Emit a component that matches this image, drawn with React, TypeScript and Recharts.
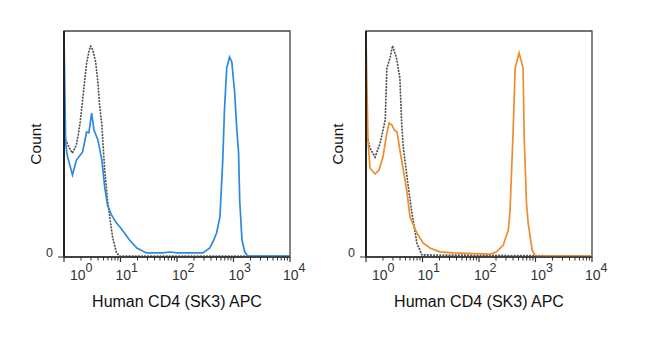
import React from "react";
import {
  LineChart,
  Line,
  XAxis,
  YAxis,
  ReferenceArea,
} from "recharts";

// x values are log10(intensity), y values are % of max count

const BLUE_X = [0, 0.03, 0.065, 0.15, 0.22, 0.33, 0.4, 0.44, 0.49, 0.53, 0.6, 0.67, 0.72, 0.77, 0.84, 0.93, 0.99, 1.07, 1.16, 1.29, 1.46, 1.75, 1.87, 2.0, 2.46, 2.58, 2.65, 2.7, 2.76, 2.81, 2.84, 2.88, 2.93, 2.97, 3.02, 3.06, 3.09, 3.11, 3.15, 3.2, 3.25, 4];
const BLUE_Y = [97, 49.6, 44.2, 36.3, 42.9, 46.5, 55.3, 54.9, 63.7, 56.2, 51.8, 42.9, 31, 23, 18.6, 15, 13.3, 10.6, 7.5, 4, 1.8, 1.8, 2.2, 1.8, 1.8, 4, 7.5, 10.6, 17.7, 43, 65, 83.6, 88.5, 86.3, 73, 56, 46, 25, 7.5, 2.2, 0.4, 0.4];

const ORANGE_X = [0, 0.035, 0.07, 0.16, 0.23, 0.3, 0.37, 0.41, 0.46, 0.5, 0.55, 0.6, 0.66, 0.72, 0.78, 0.9, 1.01, 1.13, 1.31, 1.54, 2.2, 2.31, 2.43, 2.52, 2.55, 2.6, 2.64, 2.71, 2.78, 2.8, 2.84, 2.87, 2.94, 3.0, 4];
const ORANGE_Y = [97, 51.8, 39.4, 36.7, 38.5, 44.2, 54.9, 59.3, 58.4, 56.2, 55.3, 47.3, 38.5, 29.6, 17.7, 10.6, 6.2, 4, 2.3, 1.8, 1.3, 2.3, 5.3, 12, 20.8, 53, 83.6, 90.3, 83.6, 53, 23.9, 15, 3.1, 0.4, 0.4];

const CTRL_LEFT_X = [0.03, 0.1, 0.15, 0.22, 0.28, 0.33, 0.4, 0.44, 0.47, 0.51, 0.56, 0.6, 0.63, 0.67, 0.72, 0.77, 0.81, 0.86, 0.93, 0.99, 4];
const CTRL_LEFT_Y = [51.8, 48, 46, 49.6, 58.4, 69.5, 85.8, 90.7, 93.4, 91.6, 86.3, 77.4, 67.3, 58.4, 38.5, 25.2, 17.7, 8.8, 1.8, 0.4, 0.4];

const CTRL_RIGHT_X = [0.035, 0.07, 0.16, 0.25, 0.34, 0.37, 0.43, 0.47, 0.54, 0.6, 0.63, 0.66, 0.74, 0.81, 0.9, 0.99, 4];
const CTRL_RIGHT_Y = [51.8, 48.2, 44.2, 50.4, 60.6, 83.6, 88.5, 93.5, 88, 79.2, 59.7, 48.7, 32.7, 19.9, 6.2, 0.9, 0.4];

const DECADES = [0, 1, 2, 3, 4];
const MINOR_STEPS = [2, 3, 4, 5, 6, 7, 8, 9];
const LABEL_DX = [6, -5, -5, -5, -7];
const X_TITLE = "Human CD4 (SK3) APC";

const MINOR_TICKS = DECADES.slice(0, -1).flatMap((k) =>
  MINOR_STEPS.map((m) => k + Math.log10(m))
);
const ALL_TICKS = [...DECADES, ...MINOR_TICKS].sort((a, b) => a - b);

const toPoints = (xs: number[], ys: number[]) =>
  xs.map((x, i) => ({ x, y: ys[i] }));

function LogTick(props: any) {
  const { x, y, payload } = props;
  const v = payload.value;
  const idx = DECADES.indexOf(v);
  if (idx < 0) {
    return <line x1={x} x2={x} y1={y} y2={y + 3.5} stroke="#333" strokeWidth={1} />;
  }
  return (
    <g>
      <line x1={x} x2={x} y1={y} y2={y + 5} stroke="#333" strokeWidth={1.2} />
      <text x={x + LABEL_DX[idx]} y={y + 23} fontSize={14} fill="#333" textAnchor="start">
        10
        <tspan dy={-8} fontSize={12.5}>
          {v}
        </tspan>
      </text>
    </g>
  );
}

function ZeroTick(props: any) {
  const { x, y } = props;
  return (
    <text x={x} y={y} dy={-0.5} textAnchor="end" fontSize={12.5} fill="#333">
      0
    </text>
  );
}

function Histogram({
  sample,
  control,
  color,
}: {
  sample: { x: number; y: number }[];
  control: { x: number; y: number }[];
  color: string;
}) {
  return (
    <LineChart
      width={325}
      height={346}
      margin={{ top: 31, right: 35, left: 0, bottom: 29 }}
    >
      <XAxis
        type="number"
        dataKey="x"
        domain={[0, 4]}
        ticks={ALL_TICKS}
        interval={0}
        tickSize={0}
        tickMargin={0}
        tickLine={false}
        tick={<LogTick />}
        height={60}
        axisLine={{ stroke: "#333", strokeWidth: 1.5 }}
        allowDataOverflow
        label={{
          value: X_TITLE,
          position: "insideBottom",
          offset: 10,
          fontSize: 16,
          fill: "#111",
        }}
      />
      <YAxis
        type="number"
        domain={[0, 100]}
        ticks={[0]}
        width={64}
        tickSize={6}
        tickMargin={5}
        tick={<ZeroTick />}
        tickLine={{ stroke: "#333" }}
        axisLine={{ stroke: "#222", strokeWidth: 2 }}
        label={{
          value: "Count",
          angle: -90,
          position: "center",
          dx: 3,
          fontSize: 15.5,
          fill: "#111",
        }}
      />
      <ReferenceArea
        x1={0}
        x2={4}
        y1={0}
        y2={100}
        fill="none"
        stroke="#444"
        strokeWidth={1.3}
      />
      <Line
        data={control}
        dataKey="y"
        type="linear"
        stroke="#555"
        strokeWidth={1.8}
        strokeDasharray="0.5 2.6"
        strokeLinecap="round"
        dot={false}
        isAnimationActive={false}
      />
      <Line
        data={sample}
        dataKey="y"
        type="linear"
        stroke={color}
        strokeWidth={1.7}
        dot={false}
        isAnimationActive={false}
      />
    </LineChart>
  );
}

export default function App() {
  return (
    <div
      style={{
        position: "absolute",
        left: 0,
        top: 0,
        width: 650,
        height: 346,
        background: "#fff",
        fontFamily: "'Liberation Sans', Arial, sans-serif",
      }}
    >
      <div style={{ position: "absolute", left: 0, top: 0 }}>
        <Histogram
          sample={toPoints(BLUE_X, BLUE_Y)}
          control={toPoints(CTRL_LEFT_X, CTRL_LEFT_Y)}
          color="#2b8ae2"
        />
      </div>
      <div style={{ position: "absolute", left: 302, top: 0 }}>
        <Histogram
          sample={toPoints(ORANGE_X, ORANGE_Y)}
          control={toPoints(CTRL_RIGHT_X, CTRL_RIGHT_Y)}
          color="#ef8c2c"
        />
      </div>
    </div>
  );
}
